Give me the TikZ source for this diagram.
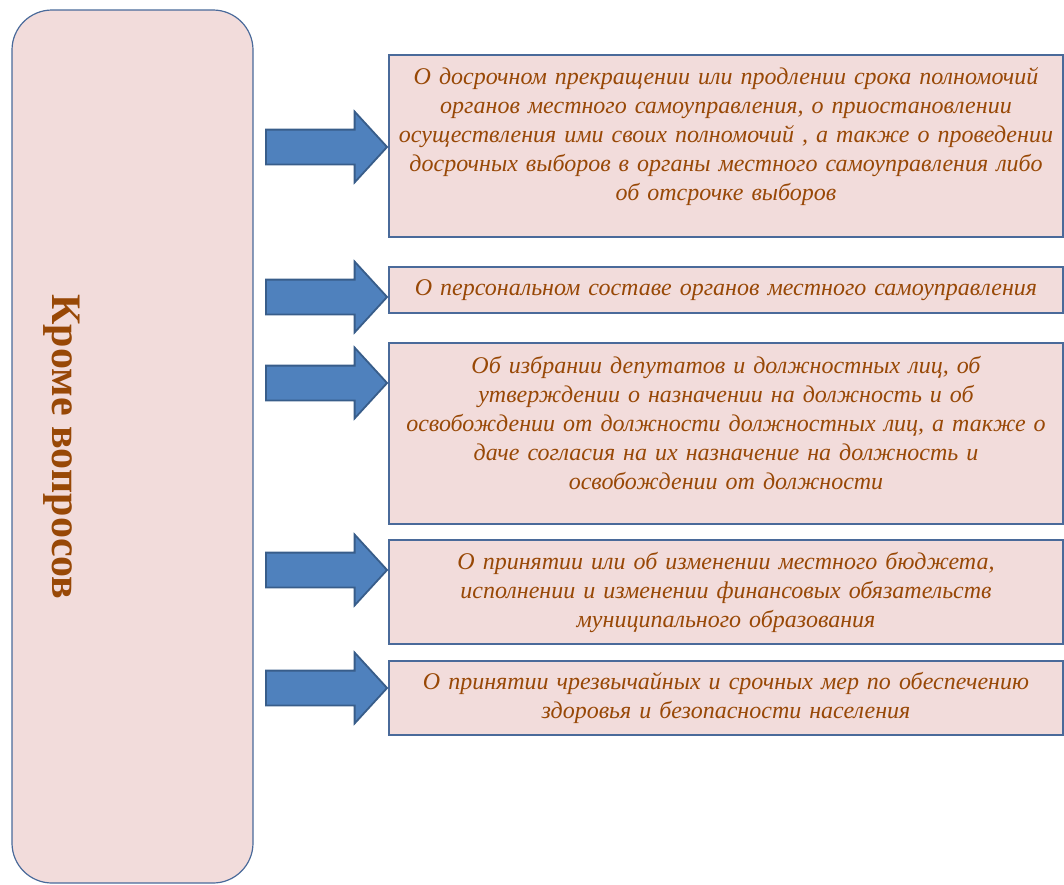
\documentclass[tikz,border=0pt]{standalone}
\usepackage{fontspec}
\setmainfont{Liberation Serif}
\usetikzlibrary{positioning,shapes.arrows}

\definecolor{boxfill}{HTML}{F2DCDB}
\definecolor{boxline}{HTML}{4A6A9A}
\definecolor{arrowfill}{HTML}{4F81BD}
\definecolor{arrowline}{HTML}{385D8A}
\definecolor{textbrown}{HTML}{984806}

\begin{document}
\begin{tikzpicture}[
    x=1pt, y=-1pt,
    main_style/.style={draw=boxline, fill=boxfill, rounded corners=40pt, line width=1.2pt, minimum width=241pt, minimum height=873pt, inner sep=0pt},
    title_style/.style={rotate=-90, text=textbrown, font=\fontsize{42}{50}\selectfont\bfseries},
    box_style/.style={draw=boxline, fill=boxfill, line width=1.4pt, minimum width=674pt, inner xsep=4pt, inner ysep=0pt, text width=666pt, align=center, text=textbrown, font=\fontsize{24}{29}\selectfont\itshape},
    arrow_style/.style={single arrow, draw=arrowline, fill=arrowfill, line width=1.8pt, minimum height=121pt, inner xsep=0pt, inner ysep=16.5pt, single arrow head extend=18pt, single arrow tip angle=95, anchor=tip}
]

\useasboundingbox (0,0) rectangle (1064,884);

% Left block
\node[main_style] (main) at (132.5,446.5) {};
\node[title_style] (title) at (62,447) {Кроме вопросов};

% Boxes on the right
\node[box_style, minimum height=182pt] (B1) at (726,146) {О досрочном прекращении или продлении срока полномочий\\
органов местного самоуправления, о приостановлении\\
осуществления ими своих полномочий , а также о проведении\\
досрочных выборов в органы местного самоуправления либо\\
об отсрочке выборов\par\vspace{18pt}};
\node[box_style, minimum height=46pt] (B2) at (726,290) {О персональном составе органов местного самоуправления};
\node[box_style, minimum height=181pt] (B3) at (726,433.5) {Об избрании депутатов и должностных лиц, об\\
утверждении  о назначении на должность и об\\
освобождении от должности должностных лиц, а также о\\
даче согласия на их назначение на должность и\\
освобождении от должности\par\vspace{20pt}};
\node[box_style, minimum height=104pt] (B4) at (726,592) {О принятии или об изменении местного бюджета,\\
исполнении и изменении финансовых обязательств\\
муниципального образования};
\node[box_style, minimum height=74pt] (B5) at (726,698) {О принятии чрезвычайных и срочных мер по обеспечению\\
здоровья и безопасности населения};

% Arrows to the boxes
\node[arrow_style] (A1) at (B1.west |- 0,147) {};
\node[arrow_style] (A2) at (B2.west |- 0,297) {};
\node[arrow_style] (A3) at (B3.west |- 0,383) {};
\node[arrow_style] (A4) at (B4.west |- 0,570) {};
\node[arrow_style] (A5) at (B5.west |- 0,688) {};

\end{tikzpicture}
\end{document}
